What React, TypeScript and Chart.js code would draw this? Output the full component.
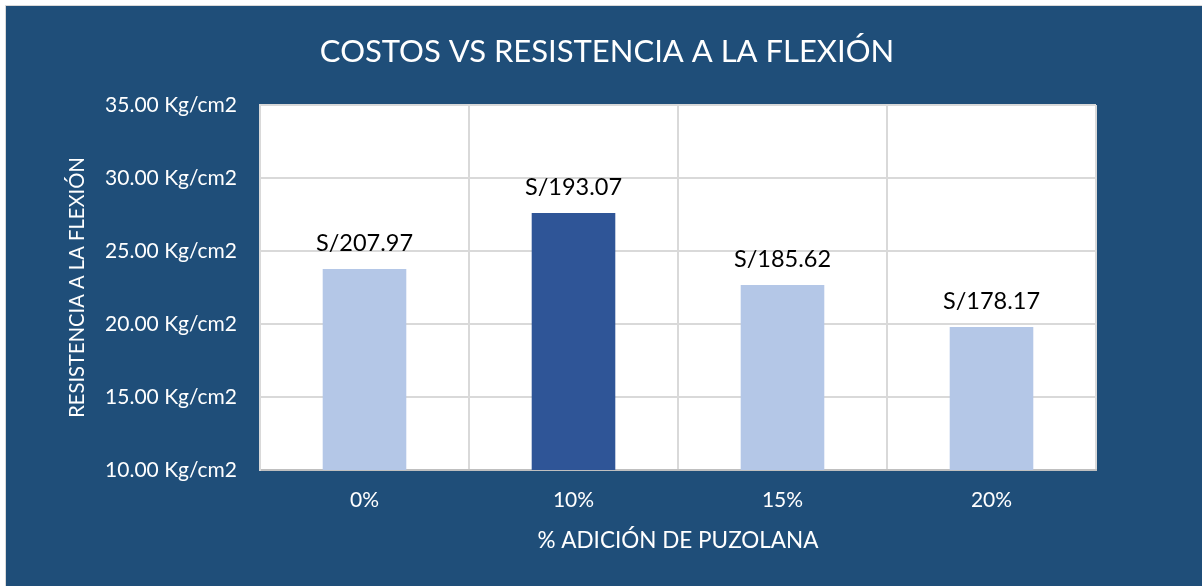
import React, { useEffect, useRef } from "react";
import { Chart, registerables } from "chart.js";

Chart.register(...registerables);

const categories = ["0%", "10%", "15%", "20%"];
const resistance = [23.77, 27.6, 22.67, 19.79];
const costLabels = ["S/207.97", "S/193.07", "S/185.62", "S/178.17"];
const barColors = ["#B4C7E7", "#2F5597", "#B4C7E7", "#B4C7E7"];
const yMin = 10;
const yMax = 35;
const yStep = 5;
const yUnit = " Kg/cm2";
const chartTitle = "COSTOS VS RESISTENCIA A LA FLEXIÓN";
const xTitle = "% ADICIÓN DE PUZOLANA";
const yTitle = "RESISTENCIA A LA FLEXIÓN";

const FONT = "Lato";
const BG = "#1F4E79";

const framePlugin = {
  id: "frame",
  beforeDraw(chart: any) {
    const { ctx, width, height, chartArea } = chart;
    ctx.save();
    ctx.fillStyle = "#FFFFFF";
    ctx.fillRect(0, 0, width, height);
    ctx.fillStyle = "#D9D9D9";
    ctx.fillRect(5, 5, width - 5, height - 5);
    ctx.fillStyle = BG;
    ctx.fillRect(6, 6, width - 6, height - 6);
    ctx.fillStyle = "#FFFFFF";
    ctx.fillRect(
      chartArea.left,
      chartArea.top,
      chartArea.right - chartArea.left,
      chartArea.bottom - chartArea.top
    );
    ctx.restore();
  },
};

const labelPlugin = {
  id: "costLabels",
  afterDatasetsDraw(chart: any) {
    const { ctx } = chart;
    const meta = chart.getDatasetMeta(0);
    ctx.save();
    ctx.fillStyle = "#000000";
    ctx.font = `23.5px ${FONT}`;
    ctx.textAlign = "center";
    ctx.textBaseline = "alphabetic";
    meta.data.forEach((bar: any, i: number) => {
      ctx.fillText(costLabels[i], bar.x, bar.y - 18);
    });
    ctx.restore();
  },
};

export default function App() {
  const canvasRef = useRef<HTMLCanvasElement | null>(null);

  useEffect(() => {
    document.body.style.margin = "0";
    const canvas = canvasRef.current;
    if (!canvas) return;
    const chart = new Chart(canvas, {
      type: "bar",
      data: {
        labels: categories,
        datasets: [
          {
            data: resistance,
            backgroundColor: barColors,
            borderWidth: 0,
            categoryPercentage: 1,
            barPercentage: 0.4,
          },
        ],
      },
      options: {
        responsive: false,
        animation: false,
        layout: { padding: { left: 12, top: 0, right: 0, bottom: 0 } },
        plugins: {
          legend: { display: false },
          tooltip: { enabled: false },
          title: {
            display: true,
            text: chartTitle,
            color: "#FFFFFF",
            font: { family: FONT, size: 31, weight: "normal" },
            padding: { top: 33, bottom: 34.8 },
          },
        },
        scales: {
          x: {
            grid: {
              color: "#D9D9D9",
              lineWidth: 2,
              drawTicks: false,
              offset: true,
            },
            border: { color: "#BFBFBF", width: 2 },
            ticks: {
              color: "#FFFFFF",
              font: { family: FONT, size: 21 },
              padding: 18,
            },
            title: {
              display: true,
              text: xTitle,
              color: "#FFFFFF",
              font: { family: FONT, size: 22.5 },
              padding: { top: 0, bottom: 31.5 },
            },
            afterFit: (scale: any) => {
              scale.height = 116;
            },
          },
          y: {
            min: yMin,
            max: yMax,
            grid: { color: "#D9D9D9", lineWidth: 2, drawTicks: false },
            border: { color: "#D9D9D9", width: 2 },
            ticks: {
              stepSize: yStep,
              color: "#FFFFFF",
              font: { family: FONT, size: 21 },
              padding: 23,
              callback: (v: any) => Number(v).toFixed(2) + yUnit,
            },
            title: {
              display: true,
              text: yTitle,
              color: "#FFFFFF",
              font: { family: FONT, size: 20.2 },
              padding: { top: 53, bottom: 0 },
            },
            afterFit: (scale: any) => {
              scale.width = 248;
            },
          },
          spacer: {
            type: "linear",
            position: "right",
            display: true,
            grid: { display: false },
            border: { display: false },
            ticks: { display: false },
            afterFit: (scale: any) => {
              scale.width = 106;
            },
          },
        },
      } as any,
      plugins: [framePlugin, labelPlugin],
    });
    return () => chart.destroy();
  }, []);

  return (
    <div style={{ width: 1202, height: 586 }}>
      <canvas ref={canvasRef} width={1202} height={586} style={{ display: "block" }} />
    </div>
  );
}
